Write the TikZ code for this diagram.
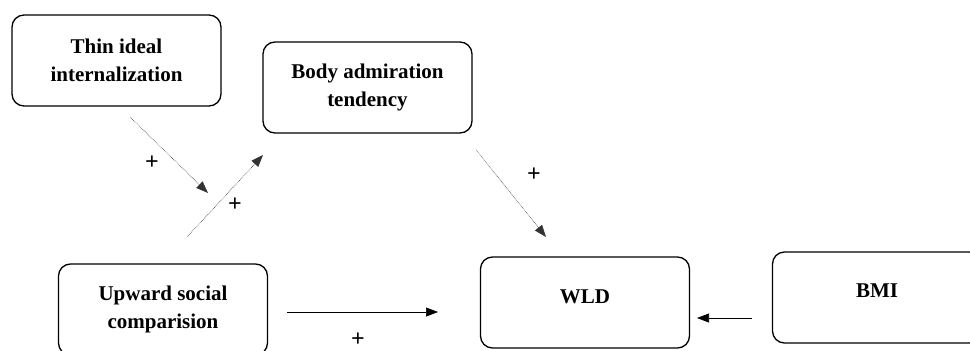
\documentclass[tikz,border=0pt]{standalone}
\usepackage{fontspec}
\setmainfont{Liberation Serif}
\usetikzlibrary{arrows.meta}
\begin{document}
\begin{tikzpicture}[x=1pt,y=-1pt,
  boxnode/.style={draw=black,line width=1.3pt,rounded corners=12pt,minimum width=209pt,minimum height=91pt,inner sep=0pt,align=center,font=\fontsize{21}{28}\selectfont\bfseries},
  dotarrow/.style={draw=black!80,line width=0.6pt,densely dotted,-{Triangle[length=12pt,width=9pt]}},
  solidarrow/.style={draw=black,line width=0.7pt,-{Triangle[length=12pt,width=9pt]}},
  plussign/.style={font=\fontsize{24}{28}\selectfont\bfseries,inner sep=0pt},
  labeltext/.style={font=\fontsize{21}{28}\selectfont\bfseries,inner sep=0pt}]
\useasboundingbox (0,0) rectangle (970,351);
\node[boxnode] (thin) at (116.5,60.5) {Thin ideal\\internalization};
\node[boxnode] (body) at (367.5,87.5) {Body admiration\\tendency};
\node[boxnode] (up) at (163,309.5) {Upward social\\comparision};
\node[boxnode] (wld) at (585,302.5) {};
\node[labeltext] (wldt) at (585,297) {WLD};
\node[boxnode] (bmi) at (877,297.5) {};
\node[labeltext] (bmit) at (877,291) {BMI};
\coordinate (a1s) at (130,117); \coordinate (a1e) at (208,193);
\coordinate (a2s) at (187,237); \coordinate (a2e) at (263,155);
\coordinate (a3s) at (476,150); \coordinate (a3e) at (546,237);
\coordinate (a4s) at (287,312); \coordinate (a4e) at (438,312);
\coordinate (a5s) at (752,318); \coordinate (a5e) at (697,318);
\draw[dotarrow] (a1s) -- (a1e);
\draw[dotarrow] (a2s) -- (a2e);
\draw[dotarrow] (a3s) -- (a3e);
\draw[solidarrow] (a4s) -- (a4e);
\draw[solidarrow] (a5s) -- (a5e);
\node[plussign] (p1) at (152,163) {+};
\node[plussign] (p2) at (235,205) {+};
\node[plussign] (p3) at (534,175) {+};
\node[plussign] (p4) at (358,340) {+};
\end{tikzpicture}
\end{document}
